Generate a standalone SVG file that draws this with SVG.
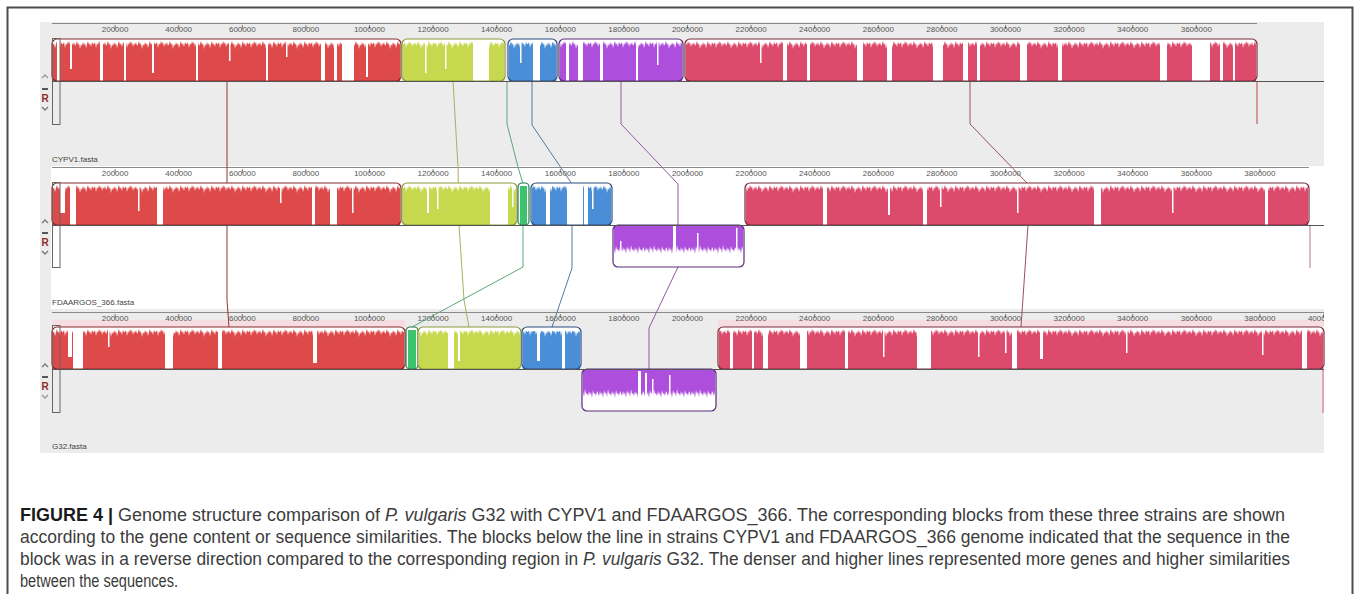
<svg xmlns="http://www.w3.org/2000/svg" width="1358" height="594" viewBox="0 0 1358 594">
<style>
text{font-family:"Liberation Sans",Arial,sans-serif}
.tk{font-size:8px;fill:#555;text-anchor:middle}
.fn{font-size:8px;fill:#444}
.bgw{fill:#fff}
.r{fill:#de4a4a}.ro{stroke:#8a2a2a}
.y{fill:#c6d84e}.yo{stroke:#8c9a3a}
.b{fill:#4a8ed8}.bo{stroke:#2a4f80}
.p{fill:#ad4fdc}.po{stroke:#5a2a7a}
.c{fill:#dc4b6b}.co{stroke:#7a2a3a}
.g{fill:#3cc46c}.go{stroke:#2a7a4a}
.o{fill:none;stroke-width:1.2}
.w{fill:#fff}
.jt{fill:url(#jt)}
.jb{fill:url(#jb)}
.ruler{stroke:#8a8a8a;stroke-width:1;fill:none}
.tick{stroke:#777;stroke-width:1;fill:none}
.axis{stroke:#555;stroke-width:1;fill:none}
.sel{fill:none;stroke:#666;stroke-width:1}
.up{fill:none;stroke:#999;stroke-width:1.4}
.dn{fill:none;stroke:#777;stroke-width:1.4}
.dash{stroke:#333;stroke-width:1.6}
.R{font-size:10px;font-weight:bold;fill:#8b2a2a;text-anchor:middle}
.cn{fill:none;stroke-width:1}
.cap{font-size:17.5px;fill:#3c3c3c}
</style>
<defs>
<pattern id="jt" x="0" y="0" width="31" height="12" patternUnits="userSpaceOnUse">
<path d="M0 0H31V5L30 3L29 8L28 4L27 6L26 2L25 5L24 9L23 4L22 6L21 3L20 7L19 5L18 10L17 4L16 6L15 2L14 5L13 7L12 3L11 6L10 4L9 8L8 3L7 5L6 2L5 6L4 4L3 9L2 3L1 5L0 5Z" fill="#fff"/>
</pattern>
<pattern id="jb" x="0" y="58" width="23" height="16" patternUnits="userSpaceOnUse">
<path d="M0 16V8L1 11L2 6L3 10L4 7L5 13L6 5L7 9L8 7L9 12L10 4L11 9L12 8L13 11L14 6L15 10L16 7L17 13L18 5L19 9L20 8L21 11L22 6L23 8V16Z" fill="#fff"/>
</pattern>
<clipPath id="clip3"><rect x="40" y="300" width="1284" height="160"/></clipPath>
</defs>

<rect x="0" y="0" width="1358" height="594" fill="#fff"/>
<rect x="7.5" y="7.5" width="1345" height="600" fill="none" stroke="#4d4d4d" stroke-width="2"/>

<!-- panel backgrounds -->
<g id="panel-backgrounds">
<rect x="40" y="22" width="1284" height="144" fill="#ececec"/>
<rect x="40" y="166" width="1284" height="143" fill="#fff"/>
<rect x="40" y="166" width="11" height="143" fill="#ececec"/>
<rect x="40" y="309" width="1284" height="144" fill="#ececec"/>
<rect x="52" y="320" width="353" height="7" fill="#f6dde2"/>
<rect x="718" y="320" width="606" height="7" fill="#f6dde2"/>
</g>

<!-- rulers -->
<g id="ruler-cypv1">
<line class="ruler" x1="52" y1="23.5" x2="1257" y2="23.5"/>
<path class="tick" d="M115.1 25v4M178.7 25v4M242.3 25v4M305.9 25v4M369.5 25v4M433.1 25v4M496.7 25v4M560.3 25v4M623.9 25v4M687.5 25v4M751.1 25v4M814.7 25v4M878.3 25v4M941.9 25v4M1005.5 25v4M1069.1 25v4M1132.7 25v4M1196.3 25v4"/>
<text class="tk" x="115.1" y="32">200000</text><text class="tk" x="178.7" y="32">400000</text><text class="tk" x="242.3" y="32">600000</text><text class="tk" x="305.9" y="32">800000</text><text class="tk" x="369.5" y="32">1000000</text><text class="tk" x="433.1" y="32">1200000</text><text class="tk" x="496.7" y="32">1400000</text><text class="tk" x="560.3" y="32">1600000</text><text class="tk" x="623.9" y="32">1800000</text><text class="tk" x="687.5" y="32">2000000</text><text class="tk" x="751.1" y="32">2200000</text><text class="tk" x="814.7" y="32">2400000</text><text class="tk" x="878.3" y="32">2600000</text><text class="tk" x="941.9" y="32">2800000</text><text class="tk" x="1005.5" y="32">3000000</text><text class="tk" x="1069.1" y="32">3200000</text><text class="tk" x="1132.7" y="32">3400000</text><text class="tk" x="1196.3" y="32">3600000</text>
</g>
<g id="ruler-fdaargos">
<line class="ruler" x1="52" y1="167.5" x2="1309" y2="167.5"/>
<path class="tick" d="M115.1 169v4M178.7 169v4M242.3 169v4M305.9 169v4M369.5 169v4M433.1 169v4M496.7 169v4M560.3 169v4M623.9 169v4M687.5 169v4M751.1 169v4M814.7 169v4M878.3 169v4M941.9 169v4M1005.5 169v4M1069.1 169v4M1132.7 169v4M1196.3 169v4M1259.9 169v4"/>
<text class="tk" x="115.1" y="176">200000</text><text class="tk" x="178.7" y="176">400000</text><text class="tk" x="242.3" y="176">600000</text><text class="tk" x="305.9" y="176">800000</text><text class="tk" x="369.5" y="176">1000000</text><text class="tk" x="433.1" y="176">1200000</text><text class="tk" x="496.7" y="176">1400000</text><text class="tk" x="560.3" y="176">1600000</text><text class="tk" x="623.9" y="176">1800000</text><text class="tk" x="687.5" y="176">2000000</text><text class="tk" x="751.1" y="176">2200000</text><text class="tk" x="814.7" y="176">2400000</text><text class="tk" x="878.3" y="176">2600000</text><text class="tk" x="941.9" y="176">2800000</text><text class="tk" x="1005.5" y="176">3000000</text><text class="tk" x="1069.1" y="176">3200000</text><text class="tk" x="1132.7" y="176">3400000</text><text class="tk" x="1196.3" y="176">3600000</text><text class="tk" x="1259.9" y="176">3800000</text>
</g>
<g id="ruler-g32" clip-path="url(#clip3)">
<line class="ruler" x1="52" y1="312.5" x2="1324" y2="312.5"/>
<path class="tick" d="M115.1 314v4M178.7 314v4M242.3 314v4M305.9 314v4M369.5 314v4M433.1 314v4M496.7 314v4M560.3 314v4M623.9 314v4M687.5 314v4M751.1 314v4M814.7 314v4M878.3 314v4M941.9 314v4M1005.5 314v4M1069.1 314v4M1132.7 314v4M1196.3 314v4M1259.9 314v4M1323.5 314v4"/>
<text class="tk" x="115.1" y="321">200000</text><text class="tk" x="178.7" y="321">400000</text><text class="tk" x="242.3" y="321">600000</text><text class="tk" x="305.9" y="321">800000</text><text class="tk" x="369.5" y="321">1000000</text><text class="tk" x="433.1" y="321">1200000</text><text class="tk" x="496.7" y="321">1400000</text><text class="tk" x="560.3" y="321">1600000</text><text class="tk" x="623.9" y="321">1800000</text><text class="tk" x="687.5" y="321">2000000</text><text class="tk" x="751.1" y="321">2200000</text><text class="tk" x="814.7" y="321">2400000</text><text class="tk" x="878.3" y="321">2600000</text><text class="tk" x="941.9" y="321">2800000</text><text class="tk" x="1005.5" y="321">3000000</text><text class="tk" x="1069.1" y="321">3200000</text><text class="tk" x="1132.7" y="321">3400000</text><text class="tk" x="1196.3" y="321">3600000</text><text class="tk" x="1259.9" y="321">3800000</text><text class="tk" x="1323.5" y="321">4000000</text>
</g>

<!-- connectors -->
<g id="connectors">
<polyline class="cn" stroke="#8a3a3a" points="227,81 227,300 229,327"/>
<polyline class="cn" stroke="#aab060" points="453,81 458,167 459,225 464,300 469,327"/>
<polyline class="cn" stroke="#5aa878" points="507,81 507,124 518,167 523,184 523,267 412,327"/>
<polyline class="cn" stroke="#5a7898" points="532,81 532,125 572,184 572,268 552,327"/>
<polyline class="cn" stroke="#8e5aa0" points="621,81 621,124 678,184 678,267 649,328 649,369"/>
<polyline class="cn" stroke="#9a5060" points="970,81 970,124 1028,184 1028,225 1021,327"/>
<line class="cn" stroke="#c04050" x1="1257" y1="81" x2="1257" y2="124"/>
<line class="cn" stroke="#b07888" x1="1310" y1="225" x2="1310" y2="268"/>
<line class="cn" stroke="#d06080" x1="1323" y1="369" x2="1323" y2="413"/>
</g>

<!-- ===== Panel 1: CYPV1 ===== -->
<g id="genome-cypv1" transform="translate(0,39)">
<g id="cypv1-red">
<rect class="bgw" x="52" y="0" width="349" height="42" rx="5"/>
<rect class="r" x="53" y="1" width="347" height="41"/>
<rect class="jt" x="53" y="0" width="347" height="12"/>
<rect class="w" x="57" y="0" width="3" height="42"/><rect class="w" x="70" y="0" width="2" height="30"/><rect class="w" x="100" y="0" width="3" height="42"/><rect class="w" x="124" y="0" width="2" height="42"/><rect class="w" x="152" y="0" width="2" height="34"/><rect class="w" x="196" y="0" width="2" height="42"/><rect class="w" x="266" y="0" width="2" height="42"/><rect class="w" x="321" y="0" width="4" height="42"/><rect class="w" x="334" y="0" width="3" height="42"/><rect class="w" x="342" y="0" width="12" height="42"/><rect class="w" x="366" y="0" width="2" height="38"/><rect class="w" x="229" y="0" width="1.5" height="22"/><rect class="w" x="286" y="0" width="1.5" height="18"/>
<rect class="o ro" x="52" y="0" width="349" height="42" rx="5"/>
</g>
<g id="cypv1-yellow">
<rect class="bgw" x="402" y="0" width="103" height="42" rx="5"/>
<rect class="y" x="403" y="2" width="101" height="40"/>
<rect class="jt" x="403" y="0" width="101" height="12"/>
<rect class="w" x="425" y="0" width="1.5" height="34"/><rect class="w" x="445" y="0" width="1.5" height="30"/><rect class="w" x="473" y="0" width="16" height="42"/>
<rect class="o yo" x="402" y="0" width="103" height="42" rx="5"/>
</g>
<g id="cypv1-blue">
<rect class="bgw" x="508" y="0" width="49" height="42" rx="5"/>
<rect class="b" x="509" y="3" width="47" height="39"/>
<rect class="jt" x="509" y="0" width="47" height="12"/>
<rect class="w" x="520" y="0" width="1.5" height="24"/><rect class="w" x="533" y="0" width="7" height="42"/>
<rect class="o bo" x="508" y="0" width="49" height="42" rx="5"/>
</g>
<g id="cypv1-purple">
<rect class="bgw" x="559" y="0" width="124" height="42" rx="5"/>
<rect class="p" x="560" y="2" width="122" height="40"/>
<rect class="jt" x="560" y="0" width="122" height="12"/>
<rect class="w" x="566" y="0" width="3" height="42"/><rect class="w" x="578" y="0" width="5" height="42"/><rect class="w" x="600" y="0" width="3" height="42"/><rect class="w" x="636" y="0" width="2" height="42"/><rect class="w" x="657" y="0" width="1.5" height="26"/>
<rect class="o po" x="559" y="0" width="124" height="42" rx="5"/>
</g>
<g id="cypv1-crimson">
<rect class="bgw" x="685" y="0" width="572" height="42" rx="5"/>
<rect class="c" x="686" y="2" width="570" height="40"/>
<rect class="jt" x="686" y="0" width="570" height="12"/>
<rect class="w" x="783" y="0" width="4" height="42"/><rect class="w" x="807" y="0" width="3" height="42"/><rect class="w" x="857" y="0" width="6" height="42"/><rect class="w" x="887" y="0" width="5" height="42"/><rect class="w" x="933" y="0" width="10" height="42"/><rect class="w" x="963" y="0" width="5" height="42"/><rect class="w" x="977" y="0" width="3" height="42"/><rect class="w" x="1020" y="0" width="7" height="42"/><rect class="w" x="1058" y="0" width="4" height="42"/><rect class="w" x="1160" y="0" width="7" height="42"/><rect class="w" x="1192" y="0" width="18" height="42"/><rect class="w" x="1220" y="0" width="3" height="42"/><rect class="w" x="1233" y="0" width="2" height="42"/><rect class="w" x="1024" y="0" width="1.5" height="30"/><rect class="w" x="760" y="0" width="1.5" height="24"/>
<rect class="o co" x="685" y="0" width="572" height="42" rx="5"/>
</g>
<g id="cypv1-controls">
<rect class="sel" x="52.5" y="-0.5" width="7.5" height="86"/>
<path class="up" d="M42 39L45 36L48 39"/>
<line class="dash" x1="42" y1="50" x2="48" y2="50"/>
<text class="R" x="45" y="63">R</text>
<path class="dn" d="M42 68L45 71L48 68"/>
</g>
<line class="axis" x1="52" y1="42.5" x2="1324" y2="42.5"/>
</g>
<text id="label-cypv1" class="fn" x="52" y="162">CYPV1.fasta</text>

<!-- ===== Panel 2: FDAARGOS_366 ===== -->
<g id="genome-fdaargos" transform="translate(0,183)">
<g id="fdaargos-red">
<rect class="bgw" x="52" y="0" width="349" height="42" rx="5"/>
<rect class="r" x="53" y="2" width="347" height="40"/>
<rect class="jt" x="53" y="0" width="347" height="12"/>
<rect class="w" x="60" y="0" width="5" height="30"/><rect class="w" x="70" y="0" width="6" height="42"/><rect class="w" x="157" y="0" width="6" height="42"/><rect class="w" x="138" y="0" width="1.5" height="28"/><rect class="w" x="312" y="0" width="3" height="42"/><rect class="w" x="330" y="0" width="7" height="42"/><rect class="w" x="352" y="0" width="1.5" height="30"/><rect class="w" x="280" y="0" width="1.5" height="20"/>
<rect class="o ro" x="52" y="0" width="349" height="42" rx="5"/>
</g>
<g id="fdaargos-yellow">
<rect class="bgw" x="402" y="0" width="115" height="42" rx="5"/>
<rect class="y" x="403" y="2" width="113" height="40"/>
<rect class="jt" x="403" y="0" width="113" height="12"/>
<rect class="w" x="427" y="0" width="2" height="30"/><rect class="w" x="437" y="0" width="1.5" height="26"/><rect class="w" x="490" y="0" width="18" height="42"/><rect class="w" x="512" y="0" width="1.5" height="24"/>
<rect class="o yo" x="402" y="0" width="115" height="42" rx="5"/>
</g>
<g id="fdaargos-green">
<rect class="bgw" x="518" y="0" width="11" height="42" rx="4"/>
<rect class="g" x="520" y="3" width="7" height="39"/>
<rect class="o go" x="518" y="0" width="11" height="42" rx="4"/>
</g>
<g id="fdaargos-blue">
<rect class="bgw" x="531" y="0" width="81" height="42" rx="5"/>
<rect class="b" x="532" y="3" width="79" height="39"/>
<rect class="jt" x="532" y="0" width="79" height="12"/>
<rect class="w" x="546" y="0" width="4" height="42"/><rect class="w" x="567" y="0" width="16" height="42"/><rect class="w" x="584" y="0" width="4" height="42"/><rect class="w" x="592" y="0" width="1.5" height="26"/>
<rect class="o bo" x="531" y="0" width="81" height="42" rx="5"/>
</g>
<g id="fdaargos-purple">
<rect class="bgw" x="613" y="42" width="131" height="42" rx="5"/>
<rect class="p" x="614" y="43" width="129" height="29"/>
<rect class="jb" x="614" y="58" width="129" height="16"/>
<rect class="w" x="673" y="43" width="3" height="40"/><rect class="w" x="697" y="50" width="1.5" height="30"/><rect class="w" x="736" y="45" width="1.5" height="35"/><rect class="w" x="620" y="58" width="1.5" height="20"/>
<rect class="o po" x="613" y="42" width="131" height="42" rx="5"/>
</g>
<g id="fdaargos-crimson">
<rect class="bgw" x="745" y="0" width="564" height="42" rx="5"/>
<rect class="c" x="746" y="2" width="562" height="40"/>
<rect class="jt" x="746" y="0" width="562" height="12"/>
<rect class="w" x="823" y="0" width="4" height="42"/><rect class="w" x="888" y="0" width="2" height="32"/><rect class="w" x="923" y="0" width="4" height="42"/><rect class="w" x="940" y="0" width="1.5" height="24"/><rect class="w" x="1017" y="0" width="1.5" height="30"/><rect class="w" x="1094" y="0" width="7" height="42"/><rect class="w" x="1172" y="0" width="1.5" height="30"/><rect class="w" x="1265" y="0" width="3" height="42"/>
<rect class="o co" x="745" y="0" width="564" height="42" rx="5"/>
</g>
<g id="fdaargos-controls">
<rect class="sel" x="52.5" y="-0.5" width="7.5" height="85"/>
<path class="dn" d="M42 40L45 37L48 40"/>
<line class="dash" x1="42" y1="50" x2="48" y2="50"/>
<text class="R" x="45" y="63">R</text>
<path class="dn" d="M42 68L45 71L48 68"/>
</g>
<line class="axis" x1="52" y1="42.5" x2="1324" y2="42.5"/>
</g>
<text id="label-fdaargos" class="fn" x="52" y="305">FDAARGOS_366.fasta</text>

<!-- ===== Panel 3: G32 ===== -->
<g id="genome-g32" transform="translate(0,327)">
<g id="g32-red">
<rect class="bgw" x="52" y="0" width="353" height="42" rx="5"/>
<rect class="r" x="53" y="2" width="351" height="40"/>
<rect class="jt" x="53" y="0" width="351" height="12"/>
<rect class="w" x="68" y="0" width="4" height="30"/><rect class="w" x="73" y="0" width="10" height="42"/><rect class="w" x="165" y="0" width="8" height="42"/><rect class="w" x="218" y="0" width="4" height="42"/><rect class="w" x="313" y="0" width="4" height="36"/><rect class="w" x="108" y="0" width="1.5" height="20"/>
<rect class="o ro" x="52" y="0" width="353" height="42" rx="5"/>
</g>
<g id="g32-green">
<rect class="bgw" x="406" y="0" width="12" height="42" rx="4"/>
<rect class="g" x="408" y="3" width="8" height="39"/>
<rect class="o go" x="406" y="0" width="12" height="42" rx="4"/>
</g>
<g id="g32-yellow">
<rect class="bgw" x="418" y="0" width="103" height="42" rx="5"/>
<rect class="y" x="419" y="3" width="101" height="39"/>
<rect class="jt" x="419" y="0" width="101" height="12"/>
<rect class="w" x="448" y="0" width="6" height="42"/><rect class="w" x="458" y="0" width="2" height="34"/>
<rect class="o yo" x="418" y="0" width="103" height="42" rx="5"/>
</g>
<g id="g32-blue">
<rect class="bgw" x="522" y="0" width="59" height="42" rx="5"/>
<rect class="b" x="523" y="4" width="57" height="38"/>
<rect class="jt" x="523" y="0" width="57" height="12"/>
<rect class="w" x="537" y="0" width="3" height="34"/><rect class="w" x="562" y="0" width="3" height="42"/>
<rect class="o bo" x="522" y="0" width="59" height="42" rx="5"/>
</g>
<g id="g32-purple">
<rect class="bgw" x="582" y="42" width="134" height="42" rx="5"/>
<rect class="p" x="583" y="43" width="132" height="29"/>
<rect class="jb" x="583" y="58" width="132" height="16"/>
<rect class="w" x="638" y="44" width="3" height="38"/><rect class="w" x="645" y="46" width="2" height="34"/><rect class="w" x="669" y="48" width="1.5" height="32"/><rect class="w" x="652" y="52" width="1.5" height="26"/>
<rect class="o po" x="582" y="42" width="134" height="42" rx="5"/>
</g>
<g id="g32-crimson">
<rect class="bgw" x="718" y="0" width="606" height="42" rx="5"/>
<rect class="c" x="719" y="2" width="604" height="40"/>
<rect class="jt" x="719" y="0" width="604" height="12"/>
<rect class="w" x="730" y="0" width="3" height="42"/><rect class="w" x="752" y="0" width="2" height="42"/><rect class="w" x="763" y="0" width="5" height="42"/><rect class="w" x="800" y="0" width="7" height="42"/><rect class="w" x="845" y="0" width="3" height="42"/><rect class="w" x="883" y="0" width="1.5" height="30"/><rect class="w" x="917" y="0" width="14" height="42"/><rect class="w" x="978" y="0" width="1.5" height="30"/><rect class="w" x="1005" y="0" width="1.5" height="26"/><rect class="w" x="1012" y="0" width="5" height="42"/><rect class="w" x="1040" y="0" width="3" height="32"/><rect class="w" x="1126" y="0" width="1.5" height="26"/><rect class="w" x="1262" y="0" width="1.5" height="28"/><rect class="w" x="1302" y="0" width="5" height="42"/>
<rect class="o co" x="718" y="0" width="606" height="42" rx="5"/>
</g>
<g id="g32-controls">
<rect class="sel" x="52.5" y="-1.5" width="7.5" height="87"/>
<path class="dn" d="M42 40L45 37L48 40"/>
<line class="dash" x1="42" y1="50" x2="48" y2="50"/>
<text class="R" x="45" y="63">R</text>
<path class="up" d="M42 68L45 71L48 68"/>
</g>
<line class="axis" x1="52" y1="42.5" x2="1324" y2="42.5"/>
</g>
<text id="label-g32" class="fn" x="52" y="449">G32.fasta</text>

<!-- caption -->
<g id="caption">
<text class="cap" x="20" y="521" textLength="1265" lengthAdjust="spacingAndGlyphs"><tspan font-weight="bold" fill="#1a1a1a">FIGURE 4 |</tspan> Genome structure comparison of <tspan font-style="italic">P. vulgaris</tspan> G32 with CYPV1 and FDAARGOS_366. The corresponding blocks from these three strains are shown</text>
<text class="cap" x="20" y="543" textLength="1270" lengthAdjust="spacingAndGlyphs">according to the gene content or sequence similarities. The blocks below the line in strains CYPV1 and FDAARGOS_366 genome indicated that the sequence in the</text>
<text class="cap" x="20" y="565" textLength="1270" lengthAdjust="spacingAndGlyphs">block was in a reverse direction compared to the corresponding region in <tspan font-style="italic">P. vulgaris</tspan> G32. The denser and higher lines represented more genes and higher similarities</text>
<text class="cap" x="20" y="587" textLength="158" lengthAdjust="spacingAndGlyphs">between the sequences.</text>
</g>
</svg>
